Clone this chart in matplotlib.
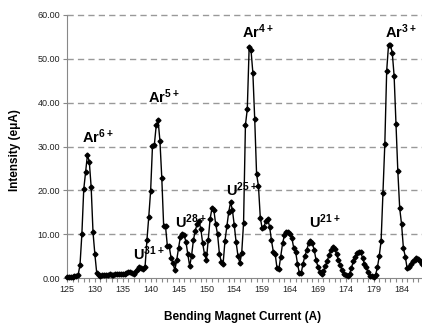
import numpy as np
from matplotlib import pyplot as plt

# font like the original (arial-ish)
plt.rcParams['font.family'] = ['Liberation Sans', 'DejaVu Sans']
plt.rcParams['mathtext.fontset'] = 'custom'
plt.rcParams['mathtext.rm'] = 'Liberation Sans'
plt.rcParams['mathtext.bf'] = 'Liberation Sans:bold'

# intensity (euA), one value per measured point (category axis)
intensity = [
    0.2, 0.2, 0.3, 0.3, 0.4, 0.5, 0.7, 3.0, 10.0, 20.2, 24.1, 28.1, 26.5, 20.7, 10.4, 5.4, 1.1,
    0.6, 0.5, 0.7, 0.6, 0.7, 0.6, 0.8, 0.7, 0.6, 0.8, 0.9, 0.8, 0.9, 0.8, 0.9, 1.1, 1.3, 1.4,
    1.2, 1.0, 1.5, 2.1, 2.5, 2.3, 2.1,
    2.6, 8.6, 14.0, 19.9, 30.2, 30.4, 34.8, 36.0, 31.3, 22.8, 11.9, 11.8, 7.3, 7.2, 4.6, 3.4,
    1.8, 4.0, 6.8, 9.4, 10.0, 9.9, 8.2, 5.4, 2.7, 5.0, 8.6, 10.8, 12.3, 12.9, 11.2, 7.9, 5.4,
    4.1, 8.7, 13.5, 15.9, 15.5, 12.3, 10.0, 5.5, 3.7, 3.3, 8.5, 11.8, 15.0, 17.3, 15.5, 12.0,
    8.1, 5.0, 3.4,
    5.7, 12.6, 34.9, 38.5, 52.6, 52.0, 46.8, 36.2, 23.7, 21.0, 13.8, 11.3, 11.7, 13.1, 13.4,
    11.7, 8.6, 6.0, 5.5, 2.2, 2.0, 4.9, 7.9, 9.8, 10.6, 10.4, 10.0, 9.1, 6.8, 6.0, 3.3, 1.1,
    1.1, 3.3, 5.0, 6.4, 7.9, 8.5, 7.9, 6.4, 4.1, 2.6, 1.4, 0.8, 1.5, 2.7, 3.8, 5.3, 6.3, 7.0,
    6.6, 5.5, 4.1, 3.0, 1.8, 1.0, 0.6, 0.5, 1.0, 2.2, 3.8, 4.9, 5.7, 6.0, 5.9, 4.6, 3.3, 2.4,
    1.4, 0.5, 0.4, 0.3, 0.7, 2.4, 5.0, 8.5, 19.5, 30.6, 47.3, 53.2, 53.2, 51.4, 46.1, 35.1,
    24.3, 15.9, 12.3, 6.8, 4.9, 2.2, 2.6, 3.2, 3.8, 4.2, 4.5, 4.3, 3.8, 3.3,
]

# current labels shown every 15th point
current_labels = ['125', '130', '135', '140', '145', '150', '154', '159', '164',
                  '169', '174', '179', '184']

# peak names and where they sit (point index, intensity)
peak_names = ['Ar^{6+}', 'Ar^{5+}', 'Ar^{4+}', 'Ar^{3+}',
              'U^{31+}', 'U^{28+}', 'U^{25+}', 'U^{21+}']
peak_x = [8, 43.5, 94, 171, 35.5, 58, 85.5, 130]
peak_y = [30.8, 39.9, 54.8, 54.8, 4.1, 11.4, 18.7, 11.4]

idx = np.arange(len(intensity))

fig = plt.figure(figsize=(4.22, 3.26), dpi=100)
ax = fig.add_axes([67 / 422, 48 / 326, 355 / 422, 263 / 326])

ax.plot(idx, intensity, color='black', lw=1.0, marker='D', ms=2.5,
        mec='black', mfc='black', clip_on=False, zorder=3)

# axes
ax.set_xlim(0, len(intensity) - 1)
ax.set_ylim(0, 60)
ax.set_yticks(np.arange(0, 61, 10))
ax.set_yticklabels(['%.2f' % v for v in np.arange(0, 61, 10)])
ax.set_xticks(np.arange(0, 15 * len(current_labels), 15))
ax.set_xticklabels(current_labels)
ax.set_xticks(np.arange(0, len(intensity), 3), minor=True)
ax.tick_params(axis='x', which='both', length=3, width=0.8, color='#888888',
               labelsize=6.5, labelcolor='#222222', pad=2)
ax.tick_params(axis='y', length=3, width=0.8, color='#888888',
               labelsize=6.5, labelcolor='#222222', pad=2)

for s in ['top', 'right']:
    ax.spines[s].set_visible(False)
for s in ['left', 'bottom']:
    ax.spines[s].set_color('#888888')
    ax.spines[s].set_linewidth(0.8)

# dashed grid
for v in np.arange(10, 61, 10):
    ax.axhline(v, color='#999999', lw=1.0, dashes=(4.5, 3.0), zorder=1, clip_on=False)

# peak labels
for name, px, py in zip(peak_names, peak_x, peak_y):
    ax.text(px, py, r'$\mathbf{' + name + '}$', fontsize=10.5, ha='left', va='baseline')

fig.text(15 / 422, 1 - 150 / 326, 'Intensity (e\u03bcA)', rotation=90,
         fontsize=8.5, fontweight='bold', ha='center', va='center')
fig.text(243 / 422, 1 - 317 / 326, 'Bending Magnet Current (A)',
         fontsize=8.5, fontweight='bold', ha='center', va='center')

plt.savefig('out.png', dpi=100)
